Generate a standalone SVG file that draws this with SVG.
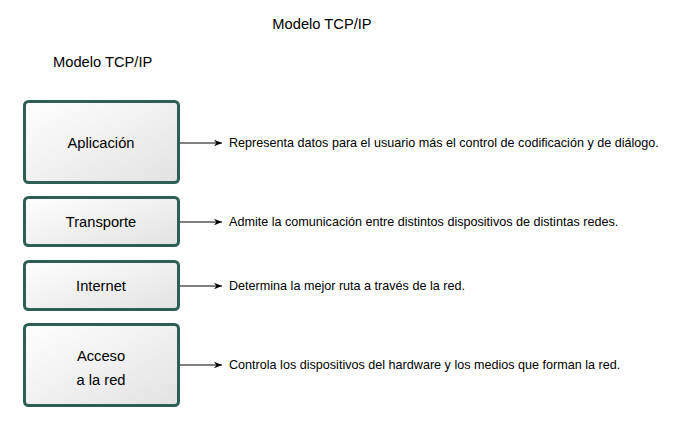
<svg xmlns="http://www.w3.org/2000/svg" width="683" height="427" viewBox="0 0 683 427">
<style>
text{font-family:"Liberation Sans",Arial,sans-serif;fill:#000}
.t{font-size:14.7px}
.l{font-size:14.7px;text-anchor:middle}
.d{font-size:12.6px}
.box{fill:url(#g);stroke:#2d5f55;stroke-width:3}
.c{stroke:#000;stroke-width:1;fill:none;marker-end:url(#a)}
</style>
<defs>
<linearGradient id="g" x1="0" y1="0" x2="1" y2="1">
<stop offset="0" stop-color="#ffffff"/>
<stop offset="1" stop-color="#e2e2e2"/>
</linearGradient>
<marker id="a" viewBox="0 0 10 10" refX="10" refY="5" markerWidth="8" markerHeight="8" markerUnits="userSpaceOnUse" orient="auto">
<path d="M0,1 L10,5 L0,9 L3,5 Z" fill="#000"/>
</marker>
</defs>
<text class="t" x="322" y="29" text-anchor="middle">Modelo TCP/IP</text>
<text class="t" x="53" y="67">Modelo TCP/IP</text>
<g id="aplicacion">
<rect class="box" x="24.5" y="101.5" width="154" height="81" rx="4"/>
<text class="l" x="101" y="148">Aplicación</text>
</g>
<g id="transporte">
<rect class="box" x="24.5" y="197.5" width="154" height="48" rx="4"/>
<text class="l" x="101" y="227">Transporte</text>
</g>
<g id="internet">
<rect class="box" x="24.5" y="261.5" width="154" height="48" rx="4"/>
<text class="l" x="101" y="291">Internet</text>
</g>
<g id="acceso">
<rect class="box" x="24.5" y="324.5" width="154" height="81" rx="4"/>
<text class="l" x="101" y="361">Acceso</text>
<text class="l" x="101" y="385">a la red</text>
</g>
<g id="connectors">
<line class="c" x1="180" y1="143" x2="222" y2="143"/>
<line class="c" x1="180" y1="222" x2="222" y2="222"/>
<line class="c" x1="180" y1="286" x2="222" y2="286"/>
<line class="c" x1="180" y1="365" x2="222" y2="365"/>
</g>
<text class="d" x="229" y="147">Representa datos para el usuario más el control de codificación y de diálogo.</text>
<text class="d" x="229" y="226">Admite la comunicación entre distintos dispositivos de distintas redes.</text>
<text class="d" x="229" y="290">Determina la mejor ruta a través de la red.</text>
<text class="d" x="229" y="369">Controla los dispositivos del hardware y los medios que forman la red.</text>
</svg>
